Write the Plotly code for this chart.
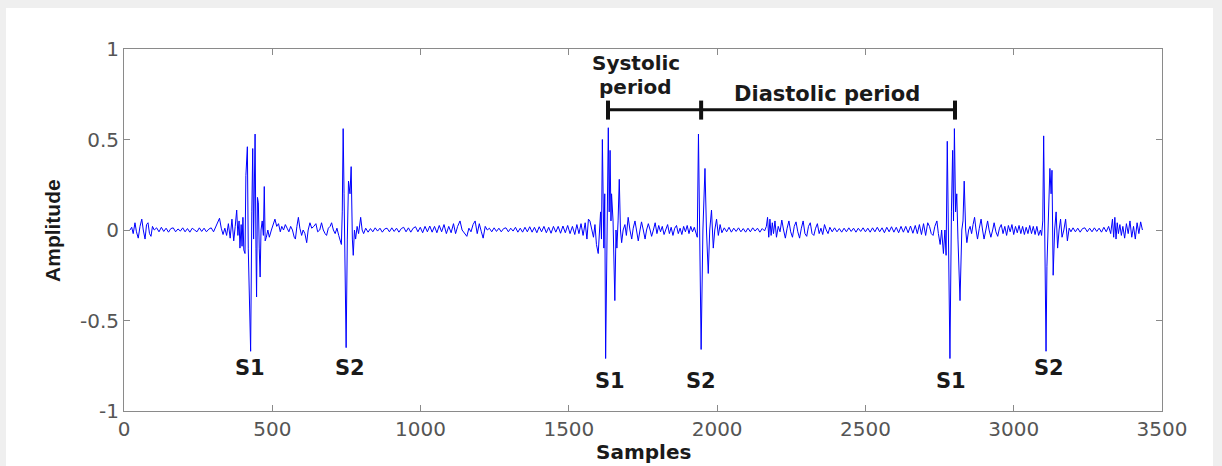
import plotly.graph_objects as go

# ---- signal as (sample, amplitude) pairs, segment by segment ----
seg_pre_s1a = [(20,0.0),(26,0.015),(31,-0.02),(37,0.04),(42,-0.01),(48,-0.045),(54,0.02),(60,0.06),(65,0.0),(71,-0.05),(76,0.03),(81,0.04),(86,-0.02),(91,-0.035),(96,0.02),(102,0.0),(110,0.012),(118,-0.01),(126,0.015),(134,-0.008),(142,0.01),(150,-0.012),(158,0.008),(166,0.012),(174,-0.01),(182,0.006),(190,-0.006),(198,0.012),(206,-0.01),(214,0.008),(222,-0.012),(230,0.01),(238,0.0),(246,-0.01),(254,0.012),(262,-0.008),(270,0.01),(278,-0.01),(286,0.005),(294,0.012),(302,-0.01),(310,0.02),(316,0.05),(322,0.065),(328,0.01),(334,-0.025),(340,0.01),(346,-0.03),(352,0.035),(358,-0.045),(364,0.06),(370,-0.06),(375,0.02)]
seg_s1a = [(380,0.11),(384,-0.03),(388,0.05),(391,-0.10),(395,0.03),(398,-0.09),(401,0.07),(404,-0.11),(408,-0.13),(411,0.30),(416,0.46),(419,-0.10),(423,-0.40),(427,-0.67),(431,0.10),(434,0.45),(437,-0.05),(440,0.20),(442,0.53),(445,-0.10),(447,-0.37),(450,0.18),(453,0.15),(456,-0.10),(459,-0.26),(462,0.0),(466,0.05),(470,-0.03),(473,0.24),(476,-0.06),(480,-0.04),(485,0.0)]
seg_pre_s2a = [(490,-0.04),(497,0.0),(503,0.03),(509,0.06),(515,0.02),(521,0.035),(527,-0.01),(532,0.02),(538,0.0),(544,0.03),(550,0.01),(556,-0.01),(562,0.02),(568,0.0),(574,-0.04),(578,-0.05),(583,0.02),(588,0.07),(593,0.01),(599,-0.03),(604,0.0),(610,-0.02),(616,-0.07),(621,0.0),(627,0.04),(633,0.01),(640,0.02),(647,0.035),(653,-0.01),(660,0.0),(666,0.04),(672,0.0),(678,-0.02),(683,-0.03),(689,0.01),(695,0.02),(700,0.04),(706,0.0),(712,-0.02),(718,0.01),(724,-0.03),(729,-0.06)]
seg_s2a = [(733,-0.08),(736,0.10),(739,0.56),(742,0.20),(745,-0.30),(749,-0.65),(753,-0.05),(757,0.27),(762,0.20),(766,0.35),(770,-0.05),(773,-0.14),(777,0.0),(781,-0.05),(786,0.02),(791,-0.02),(798,0.07),(803,0.0),(808,-0.02)]
seg_pre_s1b = [(815,0.01),(823,-0.012),(831,0.008),(839,-0.01),(847,0.012),(855,-0.006),(863,0.01),(871,-0.012),(879,0.006),(887,0.01),(895,-0.01),(903,0.012),(911,-0.008),(919,0.01),(927,-0.012),(935,0.008),(943,0.015),(951,-0.01),(959,0.012),(967,-0.012),(975,0.01),(983,0.018),(991,-0.01),(999,0.015),(1007,-0.015),(1015,0.02),(1023,-0.01),(1031,0.022),(1039,-0.012),(1047,0.02),(1055,-0.015),(1063,0.025),(1071,-0.01),(1079,0.03),(1087,-0.02),(1095,0.02),(1103,-0.015),(1111,0.035),(1118,-0.02),(1125,0.02),(1133,0.05),(1140,0.0),(1148,-0.02),(1156,-0.035),(1163,0.01),(1170,-0.01),(1177,0.03),(1184,0.05),(1191,-0.02),(1198,0.035),(1205,-0.01),(1211,-0.045),(1218,0.02),(1225,0.0),(1232,0.01),(1240,-0.01),(1248,0.012),(1256,-0.008),(1264,0.01),(1272,-0.01),(1280,0.008),(1288,0.012),(1296,-0.01),(1304,0.01),(1312,-0.006),(1320,0.015),(1328,-0.012),(1336,0.01),(1344,-0.012),(1352,0.015),(1360,-0.01),(1368,0.018),(1376,-0.012),(1384,0.015),(1392,-0.015),(1400,0.018),(1408,-0.01),(1416,0.02),(1424,-0.015),(1432,0.015),(1440,-0.018),(1448,0.02),(1456,-0.012),(1464,0.02),(1472,-0.018),(1480,0.022),(1488,-0.015),(1496,0.025),(1504,-0.02),(1512,0.02),(1520,-0.025),(1527,0.03),(1534,-0.02),(1541,0.035),(1548,-0.03),(1555,0.04),(1561,-0.05),(1566,0.06)]
seg_s1b = [(1571,0.05),(1577,0.0),(1583,-0.04),(1588,0.03),(1593,-0.08),(1599,-0.13),(1603,0.02),(1607,0.10),(1610,-0.05),(1613,0.50),(1618,-0.10),(1621,0.20),(1624,-0.71),(1629,0.20),(1633,0.565),(1636,0.10),(1639,0.44),(1642,0.05),(1644,0.20),(1649,0.05),(1655,-0.39),(1659,0.0),(1662,-0.10),(1666,0.05),(1670,0.28),(1674,0.0),(1678,-0.07),(1683,0.0),(1689,0.03),(1694,-0.03),(1700,0.07),(1706,0.0),(1712,-0.05),(1717,0.01),(1723,0.05),(1728,0.0),(1734,-0.06),(1740,0.0),(1745,0.045),(1751,0.0),(1757,-0.05),(1762,0.0),(1768,0.035),(1774,0.0),(1779,-0.035),(1785,0.0),(1791,0.04)]
seg_pre_s2b = [(1797,-0.02),(1803,0.025),(1809,-0.01),(1815,0.02),(1821,-0.025),(1827,0.01),(1833,0.03),(1839,-0.02),(1845,0.015),(1851,-0.03),(1857,0.01),(1863,0.025),(1869,-0.02),(1875,0.01),(1881,-0.025),(1887,0.02),(1893,-0.01),(1899,0.025),(1905,-0.02),(1911,0.02),(1917,-0.01),(1923,0.015),(1929,-0.02)]
seg_s2b = [(1933,-0.04),(1937,0.53),(1941,0.10),(1946,-0.66),(1952,0.0),(1959,0.34),(1964,0.0),(1970,-0.24),(1975,0.0),(1981,0.11),(1987,-0.10),(1992,0.0),(1998,0.06),(2004,-0.03),(2010,0.03)]
seg_pre_s1c = [(2016,-0.015),(2024,0.012),(2032,-0.01),(2040,0.015),(2048,-0.012),(2056,0.01),(2064,-0.008),(2072,0.012),(2080,-0.01),(2088,0.008),(2096,-0.012),(2104,0.01),(2112,-0.01),(2120,0.012),(2128,-0.006),(2136,0.01),(2144,-0.012),(2152,0.008),(2160,-0.005),(2166,0.02),(2170,0.07),(2174,-0.04),(2178,0.06),(2182,-0.03),(2186,0.04),(2190,-0.02),(2195,0.05),(2200,-0.04),(2206,0.02),(2212,-0.01),(2218,0.055),(2224,0.0),(2230,-0.045),(2236,0.01),(2242,0.05),(2248,-0.01),(2254,-0.04),(2260,0.02),(2266,0.045),(2272,-0.01),(2278,-0.045),(2284,0.01),(2290,0.05),(2296,-0.02),(2302,-0.035),(2308,0.02),(2314,0.04),(2320,-0.02),(2326,-0.03),(2332,0.01),(2338,0.035),(2344,-0.02),(2350,0.01),(2356,-0.025),(2362,0.03),(2368,0.0),(2374,-0.02),(2380,0.015),(2388,-0.01),(2396,0.012),(2404,-0.01),(2412,0.008),(2420,-0.012),(2428,0.01),(2436,-0.01),(2444,0.012),(2452,-0.008),(2460,0.01),(2468,-0.012),(2476,0.01),(2484,-0.008),(2492,0.012),(2500,-0.01),(2508,0.01),(2516,-0.012),(2524,0.012),(2532,-0.01),(2540,0.015),(2548,-0.01),(2556,0.012),(2564,-0.015),(2572,0.015),(2580,-0.01),(2588,0.018),(2596,-0.012),(2604,0.015),(2612,-0.015),(2620,0.02),(2628,-0.012),(2636,0.02),(2644,-0.015),(2652,0.022),(2660,-0.018),(2668,0.025),(2675,-0.02),(2682,0.03),(2689,-0.025),(2696,0.035),(2703,-0.03),(2710,0.04)]
seg_s1c = [(2716,0.02),(2722,-0.02),(2728,-0.03),(2734,0.02),(2741,0.05),(2746,-0.02),(2752,-0.08),(2757,0.0),(2763,-0.13),(2768,0.0),(2772,-0.14),(2776,0.49),(2780,-0.10),(2785,-0.71),(2790,0.10),(2794,0.44),(2797,0.05),(2800,0.56),(2804,0.10),(2808,0.20),(2812,-0.05),(2819,-0.39),(2825,0.0),(2829,0.05),(2833,0.27),(2838,0.0),(2842,-0.07),(2848,0.0),(2853,0.02),(2858,-0.02),(2863,0.03),(2868,0.07),(2873,0.0),(2878,-0.05),(2884,0.01),(2890,0.06),(2895,0.0),(2900,-0.05),(2906,0.0),(2912,0.05),(2917,0.0),(2923,-0.04),(2929,0.0),(2934,0.04),(2940,-0.01),(2946,-0.035),(2952,0.01),(2958,0.03),(2964,-0.02),(2970,0.02),(2976,-0.03),(2982,0.025),(2988,-0.01),(2994,0.03),(3000,-0.025),(3006,0.02),(3012,-0.015),(3018,0.025),(3024,-0.02),(3030,0.02),(3036,-0.025),(3042,0.015),(3048,-0.02),(3054,0.025),(3060,-0.02),(3066,0.02),(3072,-0.025),(3078,0.02),(3084,-0.03),(3090,0.0)]
seg_s2c = [(3094,-0.03),(3098,0.05),(3101,0.52),(3105,0.05),(3109,-0.67),(3112,-0.20),(3117,0.05),(3122,0.34),(3126,0.20),(3129,0.33),(3133,-0.25),(3138,0.0),(3143,0.10),(3148,-0.10),(3153,0.0),(3158,0.06),(3163,-0.04),(3169,0.0)]
seg_tail = [(3175,0.06),(3181,-0.06),(3187,0.01),(3193,-0.01),(3200,0.012),(3208,-0.01),(3216,0.01),(3224,-0.012),(3232,0.008),(3240,0.012),(3248,-0.01),(3256,0.01),(3264,-0.01),(3272,0.012),(3280,-0.008),(3288,0.01),(3296,-0.012),(3304,0.015),(3312,-0.01),(3320,0.02),(3327,-0.02),(3333,0.06),(3337,-0.04),(3341,0.07),(3345,-0.05),(3349,0.04),(3353,-0.02),(3358,0.03),(3363,-0.03),(3368,0.02),(3374,-0.045),(3380,0.035),(3386,-0.02),(3392,0.05),(3398,-0.04),(3404,0.02),(3410,-0.05),(3416,0.04),(3422,-0.02),(3428,0.045),(3434,0.0)]

# ---- labels ----
sound_labels = ["S1", "S2", "S1", "S2", "S1", "S2"]
sound_label_x = [425, 761, 1639, 1945, 2788, 3119]
sound_label_y = [-0.762, -0.762, -0.834, -0.834, -0.834, -0.762]

period_bounds = [1632, 1946, 2802]   # S1 -> S2 -> next S1
bracket_y = 0.665
systolic_text_x = 1725
diastolic_text_x = 2369

x_tick_vals = [0, 500, 1000, 1500, 2000, 2500, 3000, 3500]
y_tick_vals = [-1, -0.5, 0, 0.5, 1]
y_tick_text = ["-1", "-0.5", "0", "0.5", "1"]

segments = [seg_pre_s1a, seg_s1a, seg_pre_s2a, seg_s2a, seg_pre_s1b, seg_s1b,
            seg_pre_s2b, seg_s2b, seg_pre_s1c, seg_s1c, seg_s2c, seg_tail]
samples = [p[0] for seg in segments for p in seg]
amplitude = [p[1] for seg in segments for p in seg]

fig = go.Figure()
fig.add_trace(go.Scatter(x=samples, y=amplitude, mode="lines",
                         line=dict(color="#0000ff", width=1), showlegend=False,
                         hoverinfo="skip"))

# background frame (light grey page border with white card)
fig.add_shape(type="rect", xref="paper", yref="paper", x0=-0.1137, x1=1.0491,
              y0=-0.3, y1=1.1133, fillcolor="white", line=dict(width=0), layer="below")

# bracket for periods
fig.add_shape(type="line", x0=period_bounds[0], x1=period_bounds[-1], y0=bracket_y, y1=bracket_y,
              line=dict(color="#111111", width=3))
for b in period_bounds:
    fig.add_shape(type="line", x0=b, x1=b, y0=bracket_y - 0.055, y1=bracket_y + 0.05,
                  line=dict(color="#111111", width=4))

bold = dict(family="DejaVu Sans", size=21, color="#1a1a1a", weight="bold")
bold_mid = dict(family="DejaVu Sans", size=20, color="#1a1a1a", weight="bold")
for t, x, y in zip(sound_labels, sound_label_x, sound_label_y):
    fig.add_annotation(x=x, y=y, text=t, showarrow=False, font=bold,
                       xanchor="center", yanchor="middle")

fig.add_annotation(x=systolic_text_x, y=0.925, text="Systolic", showarrow=False, font=bold_mid,
                   xanchor="center", yanchor="middle")
fig.add_annotation(x=systolic_text_x, y=0.79, text="period", showarrow=False, font=bold_mid,
                   xanchor="center", yanchor="middle")
fig.add_annotation(x=diastolic_text_x, y=0.75, text="Diastolic period", showarrow=False, font=bold,
                   xanchor="center", yanchor="middle")

# axis titles
fig.add_annotation(xref="paper", yref="paper", x=0.5, y=-0.113, text="Samples", showarrow=False,
                   font=dict(family="DejaVu Sans", size=20, color="#1a1a1a", weight="bold"),
                   xanchor="center", yanchor="middle")
fig.add_annotation(xref="paper", yref="paper", x=-0.0694, y=0.5, text="Amplitude", showarrow=False,
                   textangle=-90,
                   font=dict(family="Liberation Sans", size=21, color="#1a1a1a", weight="bold"),
                   xanchor="center", yanchor="middle")

axis_common = dict(showgrid=False, zeroline=False, showline=True, linecolor="#8a8a8a", linewidth=1,
                   mirror="ticks", ticks="inside", ticklen=6, tickcolor="#8a8a8a", tickwidth=1,
                   tickfont=dict(family="DejaVu Sans", size=20, color="#555555"))
fig.update_xaxes(range=[0, 3500], tickvals=x_tick_vals, **axis_common)
fig.update_yaxes(range=[-1, 1], tickvals=y_tick_vals, ticktext=y_tick_text, **axis_common)

fig.update_layout(width=1222, height=466, margin=dict(l=124, r=60, t=49, b=55),
                  paper_bgcolor="#efefef", plot_bgcolor="white")

fig.write_html("out.html", config={"displayModeBar": False},
               post_script="document.body.style.margin='0';document.body.style.overflow='hidden';")
